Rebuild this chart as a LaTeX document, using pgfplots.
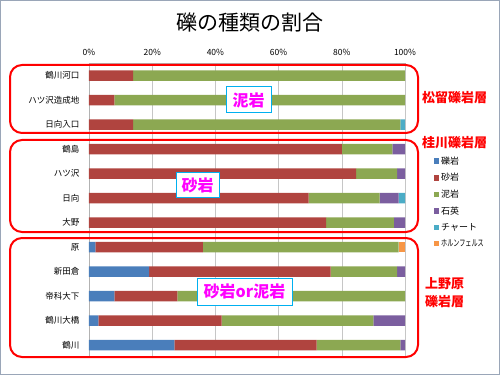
\documentclass[border=0pt]{standalone}
\usepackage{fontspec}
\setmainfont{Noto Sans CJK JP}
\usepackage{graphicx}
\usepackage{pgfplots}
\pgfplotsset{compat=1.18}
\definecolor{cBlue}{HTML}{4A7EBB}
\definecolor{cRed}{HTML}{B0443F}
\definecolor{cGreen}{HTML}{8CA852}
\definecolor{cPurple}{HTML}{7B5E9F}
\definecolor{cTeal}{HTML}{4BACC6}
\definecolor{cOrange}{HTML}{F79646}
\definecolor{frameC}{HTML}{9AA6B8}
\definecolor{boxC}{HTML}{00B0F0}
\definecolor{magC}{HTML}{FF00FF}
\begin{document}
\begin{tikzpicture}[x=1pt,y=1pt]
\useasboundingbox (0,0) rectangle (500,375);
\draw[frameC, line width=1pt] (0.5,0.5) rectangle (499.5,374.5);
\node[font=\fontsize{21}{24}\selectfont] at (250,352) {礫の種類の割合};
\begin{axis}[
  at={(89pt,17.75pt)}, anchor=south west,
  scale only axis, width=316pt, height=294pt,
  xbar stacked, bar width=10.5pt,
  xmin=0, xmax=100, ymin=0.5, ymax=12.5, y dir=reverse,
  axis x line*=top, axis y line*=left,
  axis line style={gray!60, -},
  xtick={0,20,40,60,80,100},
  xticklabel={\pgfmathprintnumber{\tick}\%},
  xticklabel style={yshift=4pt},
  /pgf/number format/assume math mode=true,
  ytick={1,...,12},
  yticklabels={鶴川河口,ハツ沢造成地,日向入口,鶴島,ハツ沢,日向,大野,原,新田倉,帝科大下,鶴川大橋,鶴川},
  ytick style={draw=none},
  xtick style={gray!60},
  major tick length=3pt,
  tick label style={font=\fontsize{8.5}{10}\selectfont},
  yticklabel style={xshift=-6pt},
  xmajorgrids, grid style={gray!45},
  legend style={at={(1.09,0.69)}, anchor=north west, draw=none, fill=none,
    font=\fontsize{9}{10.5}\selectfont, row sep=3.6pt, cells={anchor=west}, inner sep=0pt},
  legend image code/.code={\fill[#1] (0pt,-2.8pt) rectangle (5.6pt,2.8pt);},
]
\addplot[fill=cBlue, draw=none] coordinates {(0,1) (0,2) (0,3) (0,4) (0,5) (0,6) (0,7) (2,8) (19,9) (8,10) (3,11) (27,12)};
\addplot[fill=cRed, draw=none] coordinates {(14,1) (8,2) (14,3) (80,4) (84.5,5) (69.5,6) (75,7) (34,8) (57.5,9) (20,10) (39,11) (45,12)};
\addplot[fill=cGreen, draw=none] coordinates {(86,1) (92,2) (84.5,3) (16,4) (13,5) (22.5,6) (21.5,7) (62,8) (21,9) (72,10) (48,11) (26.5,12)};
\addplot[fill=cPurple, draw=none] coordinates {(0,1) (0,2) (0,3) (4,4) (2.5,5) (6,6) (3.5,7) (0,8) (2.5,9) (0,10) (10,11) (1.5,12)};
\addplot[fill=cTeal, draw=none] coordinates {(0,1) (0,2) (1.5,3) (0,4) (0,5) (2,6) (0,7) (0,8) (0,9) (0,10) (0,11) (0,12)};
\addplot[fill=cOrange, draw=none] coordinates {(0,1) (0,2) (0,3) (0,4) (0,5) (0,6) (0,7) (2,8) (0,9) (0,10) (0,11) (0,12)};
\legend{礫岩,砂岩,泥岩,石英,チャート,\scalebox{0.68}[1]{ホルンフェルス}}
\end{axis}
\draw[red, line width=2pt, rounded corners=12pt] (10,242) rectangle (418,310);
\draw[red, line width=2pt, rounded corners=12pt] (10,143) rectangle (418,235);
\draw[red, line width=2pt, rounded corners=12pt] (10,18) rectangle (418,137);
\node[draw=boxC, line width=1pt, fill=white, text=magC, font=\fontsize{16}{18}\selectfont\bfseries, minimum width=45pt, minimum height=26pt, inner sep=1pt] at (248.5,275) {泥岩};
\node[draw=boxC, line width=1pt, fill=white, text=magC, font=\fontsize{16}{18}\selectfont\bfseries, minimum width=43pt, minimum height=25pt, inner sep=1pt] at (197.5,189.5) {砂岩};
\node[draw=boxC, line width=1pt, fill=white, text=magC, font=\fontsize{16}{18}\selectfont\bfseries, minimum width=95pt, minimum height=27pt, inner sep=1pt] at (244.5,83.5) {砂岩or泥岩};
\node[anchor=west, text=red, font=\fontsize{13}{15}\selectfont\bfseries, inner sep=0pt] at (422,277) {松留礫岩層};
\node[anchor=west, text=red, font=\fontsize{13}{15}\selectfont\bfseries, inner sep=0pt] at (422,232) {桂川礫岩層};
\node[anchor=west, text=red, font=\fontsize{13}{15}\selectfont\bfseries, inner sep=0pt] at (425,91) {上野原};
\node[anchor=west, text=red, font=\fontsize{13}{15}\selectfont\bfseries, inner sep=0pt] at (425,73) {礫岩層};
\end{tikzpicture}
\end{document}
